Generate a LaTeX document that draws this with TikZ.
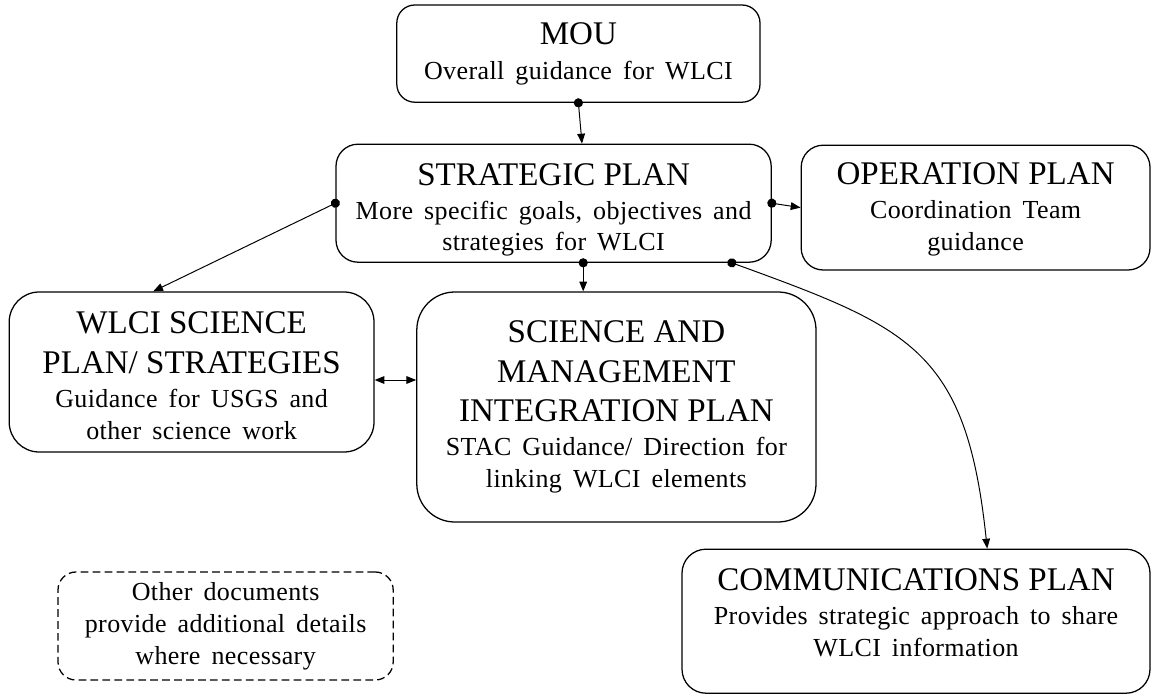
\documentclass[tikz,border=0pt]{standalone}
\usepackage{fontspec}
\setmainfont{Liberation Serif}
\newfontfamily\notefamily[LetterSpace=1.5,WordSpace=1.6]{Liberation Serif}
\usetikzlibrary{arrows.meta}

\newcommand{\plantitle}{\rmfamily\fontsize{23.5}{27.5}\selectfont}
\newcommand{\plannote}{\notefamily\fontsize{18.5}{22.7}\selectfont}
% extra room above the first line pushes the text block down a little
\newcommand{\headroom}[1]{\rule{0pt}{#1}}

\begin{document}
\begin{tikzpicture}[
    plan/.style={
        draw=black,
        rounded corners=0.45cm,
        line width=0.9pt,
        align=center,
        inner sep=2pt,
        font=\plannote
    },
    note/.style={
        plan,
        dash pattern=on 5.5pt off 3pt
    },
    link/.style={
        {Circle[length=6.5pt]}-{Triangle[length=7pt,width=5.5pt]},
        line width=0.7pt,
        shorten <=-3.25pt
    },
    both/.style={
        {Triangle[length=7pt,width=5.5pt]}-{Triangle[length=7pt,width=5.5pt]},
        line width=0.7pt
    }
]
    \useasboundingbox (0,0) rectangle (28.8,-17.35);

    \node[plan, minimum width=9.08cm, minimum height=2.43cm] (mou) at (14.46,-1.34)
        {{\plantitle MOU}\\[2pt] Overall guidance for WLCI};
    \node[plan, minimum width=10.88cm, minimum height=2.95cm, rounded corners=0.55cm] (strat) at (13.84,-5.08)
        {{\plantitle\headroom{25pt}STRATEGIC PLAN}\\[1.5pt] More specific goals, objectives and\\ strategies for WLCI};
    \node[plan, minimum width=8.72cm, minimum height=3.12cm, rounded corners=0.55cm] (oper) at (24.39,-5.19)
        {{\plantitle\headroom{18pt}OPERATION PLAN}\\[2pt] Coordination Team\\ guidance};
    \node[plan, minimum width=9.12cm, minimum height=4cm, rounded corners=0.75cm] (wlci) at (4.79,-9.3)
        {{\plantitle\headroom{21pt}WLCI SCIENCE}\\[5.5pt] {\plantitle PLAN/ STRATEGIES}\\[1.5pt] Guidance for USGS and\\[0.5pt] other science work};
    \node[plan, minimum width=9.98cm, minimum height=5.75cm, rounded corners=0.95cm] (smi) at (15.41,-10.175)
        {{\plantitle SCIENCE AND}\\[5.5pt] {\plantitle MANAGEMENT}\\[5.5pt] {\plantitle INTEGRATION PLAN}\\[1.5pt] STAC Guidance/ Direction for\\ linking WLCI elements};
    \node[plan, minimum width=11.7cm, minimum height=3.6cm, rounded corners=0.6cm] (comm) at (22.9,-15.53)
        {{\plantitle\headroom{25pt}COMMUNICATIONS PLAN}\\[1.5pt] Provides strategic approach to share\\ WLCI information\rule[-0.75cm]{0pt}{0pt}};
    \node[note, minimum width=8.38cm, minimum height=2.7cm] (other) at (5.64,-15.65)
        {Other documents\\ provide additional details\\ where necessary};

    \draw[link] (mou.south) -- ([xshift=0.71cm]strat.north);
    \draw[link] (strat.west) -- ([xshift=-0.96cm]wlci.north);
    \draw[link] (strat.east) -- (oper.west);
    \draw[link] ([xshift=0.74cm]strat.south) -- ([xshift=0.74cm]strat.south |- smi.north);
    \draw[link] ([xshift=-1cm]strat.south east)
        .. controls +(-20:4.75) and +(96:5) .. ([xshift=1.78cm]comm.north);
    \draw[both] ([yshift=-0.2cm]wlci.east) -- ([yshift=-0.2cm]wlci.east -| smi.west);
\end{tikzpicture}
\end{document}
